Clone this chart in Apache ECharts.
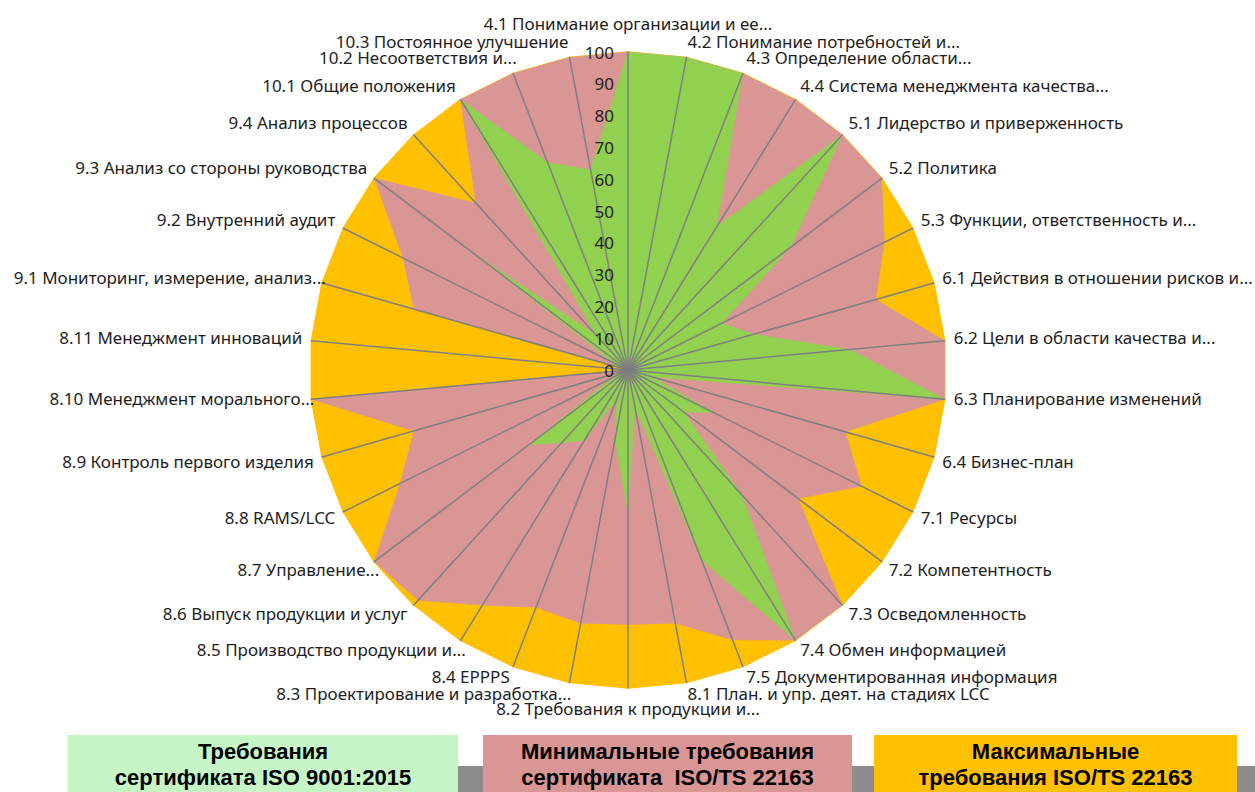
<!DOCTYPE html>
<html>
<head>
<meta charset="utf-8">
<title>ISO 9001:2015 / ISO/TS 22163</title>
<style>
	html, body { margin: 0; padding: 0; background: #fff; }
	#chart { width: 1255px; height: 792px; }
</style>
</head>
<body>
<div id="chart"></div>
<script src="https://cdn.jsdelivr.net/npm/echarts@6/dist/echarts.min.js"></script>
<script>
	// разделы стандарта, по часовой стрелке начиная сверху
	var sections = [
		'4.1 Понимание организации и ее...',
		'4.2 Понимание потребностей и...',
		'4.3 Определение области...',
		'4.4 Система менеджмента качества...',
		'5.1 Лидерство и приверженность',
		'5.2 Политика',
		'5.3 Функции, ответственность и...',
		'6.1 Действия в отношении рисков и...',
		'6.2 Цели в области качества и...',
		'6.3 Планирование изменений',
		'6.4 Бизнес-план',
		'7.1 Ресурсы',
		'7.2 Компетентность',
		'7.3 Осведомленность',
		'7.4 Обмен информацией',
		'7.5 Документированная информация',
		'8.1 План. и упр. деят. на стадиях LCC',
		'8.2 Требования к продукции и...',
		'8.3 Проектирование и разработка...',
		'8.4 EPPPS',
		'8.5 Производство продукции и...',
		'8.6 Выпуск продукции и услуг',
		'8.7 Управление...',
		'8.8 RAMS/LCC',
		'8.9 Контроль первого изделия',
		'8.10 Менеджмент морального...',
		'8.11 Менеджмент инноваций',
		'9.1 Мониторинг, измерение, анализ...',
		'9.2 Внутренний аудит',
		'9.3 Анализ со стороны руководства',
		'9.4 Анализ процессов',
		'10.1 Общие положения',
		'10.2 Несоответствия и...',
		'10.3 Постоянное улучшение'
	];

	// требования сертификата ISO 9001:2015 (зелёный)
	var isoValues = [100, 100, 100, 53, 100, 64, 33, 41, 70, 100, 8, 30, 22, 53, 100, 64, 12,
		45, 22, 10, 26, 31, 39, 5, 3, 3, 0, 5, 5, 60, 15, 100, 70, 64];
	// минимальные требования ISO/TS 22163 (розовый)
	var minValues = [100, 100, 100, 100, 100, 100, 90, 81, 100, 100, 71, 82, 67, 100, 100, 91, 81,
		80, 81, 80, 87, 98, 100, 80, 70, 100, 0, 70, 79, 100, 71, 100, 100, 100];
	// максимальные требования ISO/TS 22163 (оранжевый)
	var maxValues = [100, 100, 100, 100, 100, 100, 100, 100, 100, 100, 100, 100, 100, 100, 100, 100, 100,
		100, 100, 100, 100, 100, 100, 100, 100, 100, 100, 100, 100, 100, 100, 100, 100, 100];

	// шкала
	var scaleMin = 0;
	var scaleMax = 100;
	var scaleStep = 10;

	var legendNames = [
		'Требования\nсертификата ISO 9001:2015',
		'Минимальные требования\nсертификата  ISO/TS 22163',
		'Максимальные\nтребования ISO/TS 22163'
	];
	var colors = ['#92d050', '#d99694', '#ffc000'];
	var legendFills = ['#c6f6c6', '#d99694', '#ffc000'];

	// radar в echarts идёт против часовой стрелки - переставляем
	var order = [0];
	for (var k = sections.length - 1; k > 0; k--) {
		order.push(k);
	}
	function pick(arr) {
		return order.map(function(i) { return arr[i]; });
	}

	var labelFont = 'Noto Sans';
	var labelSize = 17;
	var baseGap = -10; // общий отступ, остальное добираем padding'ом
	var wantGap = 9;
	var half = sections.length / 2;

	var indicator = order.map(function(i) {
		var ind = { name: sections[i], min: scaleMin, max: scaleMax };
		// вертикальные оси (верх/низ) - обычный отступ
		if (i === 0 || i === half) ind.nameGap = wantGap;
		return ind;
	});
	indicator[0].axisLabel = { show: true };

	// размещение подписей как в excel: верхние чуть выше, нижние чуть ниже,
	// обрезанные ("...") слева заходят правее конца оси
	var nameRich = {};
	sections.forEach(function(name, i) {
		var a = i * 2 * Math.PI / sections.length;
		var s = Math.sin(a);
		var c = Math.cos(a);
		var d = wantGap - baseGap;
		var pad = [0, 0, 0, 0];
		if (i === 0) {
			pad = [0, 0, 12, 0];
		} else if (i === half) {
			pad = [7, 0, 0, 0];
		} else {
			var h = d * Math.abs(s);
			if (s < 0 && /\.\.\.$/.test(name)) h = Math.max(0, h - 12);
			var up = d * c + (c > -0.1 ? 2 + 5.5 * Math.max(c, 0) : -2);
			if (s > 0) pad[3] = Math.round(h); else pad[1] = Math.round(h);
			if (up > 0) pad[2] = Math.round(2 * up); else pad[0] = Math.round(-2 * up);
		}
		nameRich['s' + i] = {
			color: '#1e1e1e',
			fontSize: labelSize,
			fontFamily: labelFont,
			lineHeight: 16,
			padding: pad
		};
	});

	var myChart = echarts.init(document.getElementById('chart'), null, { renderer: 'svg' });

	var option = {
		animation: false,
		radar: {
			z: 5,
			center: [628, 370],
			radius: 318,
			startAngle: 90,
			splitNumber: (scaleMax - scaleMin) / scaleStep,
			shape: 'circle',
			indicator: indicator,
			axisNameGap: baseGap,
			axisName: {
				color: '#1e1e1e',
				fontSize: labelSize,
				fontFamily: labelFont,
				lineHeight: 16,
				formatter: function(name) {
					return '{s' + sections.indexOf(name) + '|' + name + '}';
				},
				rich: nameRich
			},
			axisLine: { lineStyle: { color: '#7f7f7f', width: 1.5 } },
			axisTick: { show: false },
			axisLabel: {
				show: false,
				color: '#1e1e1e',
				fontSize: 17,
				fontFamily: labelFont,
				margin: 14
			},
			splitLine: { show: false },
			splitArea: { show: false }
		},
		series: [{
			type: 'radar',
			symbol: 'none',
			z: 2,
			data: [{
				name: legendNames[2],
				value: pick(maxValues),
				lineStyle: { color: colors[2], width: 1.5 },
				areaStyle: { color: colors[2], opacity: 1 }
			}, {
				name: legendNames[1],
				value: pick(minValues),
				lineStyle: { color: colors[1], width: 0.5 },
				areaStyle: { color: colors[1], opacity: 1 }
			}, {
				name: legendNames[0],
				value: pick(isoValues),
				lineStyle: { color: colors[0], width: 0.5 },
				areaStyle: { color: colors[0], opacity: 1 }
			}]
		}],
		graphic: buildLegend()
	};

	// подписи-плашки внизу
	function buildLegend() {
		var boxes = [[68, 390], [483, 369], [874, 363]];
		var els = [];
		// серые стрелки между плашками
		els.push({ type: 'polygon', shape: { points: [[450, 766], [486, 766], [486, 792], [440, 792]] }, style: { fill: '#8c8c8c' } });
		els.push({ type: 'polygon', shape: { points: [[845, 766], [877, 766], [877, 792], [835, 792]] }, style: { fill: '#8c8c8c' } });
		els.push({ type: 'polygon', shape: { points: [[1230, 766], [1255, 766], [1255, 792], [1222, 792]] }, style: { fill: '#8c8c8c' } });
		for (var i = 0; i < boxes.length; i++) {
			els.push({
				type: 'rect',
				shape: { x: boxes[i][0], y: 735, width: boxes[i][1], height: 60 },
				style: { fill: legendFills[i] }
			});
			els.push({
				type: 'text',
				x: boxes[i][0] + boxes[i][1] / 2,
				y: 764,
				style: {
					text: legendNames[i],
					fill: '#000',
					font: 'bold 22px "Liberation Sans", Arial, sans-serif',
					lineHeight: 26,
					align: 'center',
					verticalAlign: 'middle',
					textAlign: 'center',
					textVerticalAlign: 'middle'
				}
			});
		}
		return els;
	}

	myChart.setOption(option);
</script>
</body>
</html>
